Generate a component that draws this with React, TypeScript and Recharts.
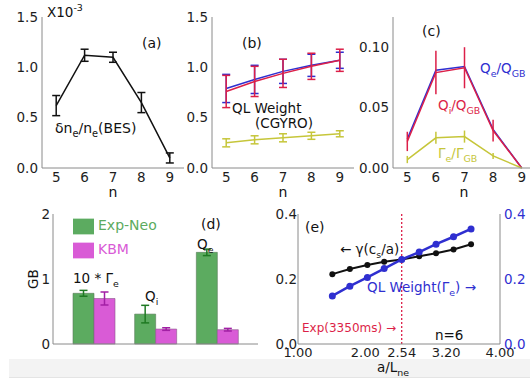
import React from 'react';
import { ComposedChart, Line, Bar, XAxis, YAxis, ErrorBar, ReferenceLine, Legend } from 'recharts';

const FONT = '"DejaVu Sans", sans-serif';
const FRAME = '#8a8a8a';
const TICK = '#1e1e1e';
const BLACK = '#111111';
const BLUE = '#2f2fd0';
const RED = '#dc1f48';
const YEL = '#c6c63a';
const GREEN = '#5cab60';
const GREEN_D = '#1f7a23';
const MAG = '#d95bd6';
const MAG_D = '#a21fa5';

// ---- Panel (a): BES density fluctuation amplitude (x10^-3)
const nValues = [5, 6, 7, 8, 9];
const besAmp = [0.62, 1.12, 1.1, 0.65, 0.1];
const besErr = [0.1, 0.06, 0.05, 0.1, 0.05];

// ---- Panel (b): QL weights (CGYRO)
const qlQe = [0.79, 0.88, 0.96, 1.02, 1.07];
const qlQeErr = [0.14, 0.14, 0.12, 0.11, 0.08];
const qlQi = [0.76, 0.86, 0.94, 1.01, 1.07];
const qlQiErr = [0.16, 0.15, 0.14, 0.13, 0.11];
const qlGe = [0.25, 0.28, 0.3, 0.32, 0.34];
const qlGeErr = [0.04, 0.04, 0.04, 0.035, 0.03];

// ---- Panel (c): fluxes
const fluxQe = [0.024, 0.081, 0.084, 0.032, 0.0];
const fluxQi = [0.022, 0.079, 0.083, 0.031, 0.0];
const fluxQiErr = [0.008, 0.018, 0.017, 0.009, 0];
const fluxGe = [0.007, 0.025, 0.026, 0.01, 0.0];
const fluxGeErr = [0.003, 0.005, 0.005, 0.0025, 0];

// ---- Panel (d): GB fluxes
const fluxCats = ['10*Γe', 'Qi', 'Qe'];
const expNeo = [0.78, 0.46, 1.41];
const expNeoErr = [0.045, 0.135, 0.05];
const kbm = [0.7, 0.23, 0.22];
const kbmErr = [0.1, 0.02, 0.02];

// ---- Panel (e): a/Lne scan, n=6
const aLne = [1.51, 1.77, 2.03, 2.28, 2.54, 2.8, 3.05, 3.31, 3.57];
const gammaVals = [0.215, 0.231, 0.243, 0.253, 0.26, 0.27, 0.279, 0.291, 0.307];
const qlWeightVals = [0.148, 0.178, 0.205, 0.232, 0.26, 0.283, 0.307, 0.33, 0.354];
const expALne = 2.54;

// ---- ticks
const nTicks = [5, 6, 7, 8, 9];
const ticksAB = [0, 0.5, 1.0, 1.5];
const ticksC = [0, 0.05, 0.1];
const ticksD = [0, 1, 2];
const ticksE = [0, 0.2, 0.4];
const ticksEx = [1.0, 2.0, 2.54, 3.2, 4.0];

const rowsA = nValues.map((n, i) => ({ n, bes: besAmp[i], besE: besErr[i] }));
const rowsB = nValues.map((n, i) => ({
  n, qe: qlQe[i], qeE: qlQeErr[i], qi: qlQi[i], qiE: qlQiErr[i], ge: qlGe[i], geE: qlGeErr[i],
}));
const rowsC = nValues.map((n, i) => ({
  n, qe: fluxQe[i], qi: fluxQi[i], qiE: fluxQiErr[i], ge: fluxGe[i], geE: fluxGeErr[i],
}));
const rowsD = fluxCats.map((name, i) => ({
  name, exp: expNeo[i], expE: expNeoErr[i], kbm: kbm[i], kbmE: kbmErr[i],
}));
const rowsE = aLne.map((a, i) => ({ a, g: gammaVals[i], w: qlWeightVals[i] }));

const tickStyle = { fontSize: 13.5, fill: TICK, fontFamily: FONT };
const axLine = { stroke: FRAME, strokeWidth: 1 };

type Part = [string, number?];
function Rich({ x, y, parts, size = 13.5, fill = '#111', anchor = 'start', rotate = false }: any) {
  const sub = size * 0.7;
  let cur = 0;
  return (
    <text
      x={x}
      y={y}
      fontSize={size}
      fill={fill}
      textAnchor={anchor}
      fontFamily={FONT}
      transform={rotate ? `rotate(-90 ${x} ${y})` : undefined}
    >
      {(parts as Part[]).map(([t, s = 0], i) => {
        const target = s === 1 ? size * 0.3 : s === -1 ? -size * 0.45 : 0;
        const dy = target - cur;
        cur = target;
        return (
          <tspan key={i} dy={dy} fontSize={s ? sub : size}>
            {t}
          </tspan>
        );
      })}
    </text>
  );
}

function Abs({ left, top, children }: any) {
  return <div style={{ position: 'absolute', left, top }}>{children}</div>;
}

export default function App() {
  return (
    <div
      style={{
        position: 'absolute', left: 0, top: 0, width: 530, height: 380, overflow: 'hidden',
        background: '#fff', fontFamily: FONT,
      }}
    >
      <div style={{ position: 'absolute', left: 9, top: 359, width: 521, height: 18, background: '#f3f3f3', borderBottom: '1px solid #e4e4e4' }} />

      {/* (a) */}
      <Abs left={0} top={0}>
        <ComposedChart width={190} height={200} data={rowsA} margin={{ top: 17, right: 6, bottom: 0, left: 0 }}>
          <XAxis dataKey="n" type="number" domain={[4.5, 9.5]} ticks={nTicks} interval={0} tick={tickStyle} tickLine={false} tickSize={0} tickMargin={4} height={32} axisLine={axLine} />
          <XAxis xAxisId="ft" orientation="top" type="number" domain={[0, 1]} height={0} tick={false} tickLine={false} axisLine={axLine} />
          <YAxis domain={[0, 1.5]} ticks={ticksAB} interval={0} tick={tickStyle} tickLine={false} tickSize={0} tickMargin={4} width={42} axisLine={axLine} tickFormatter={(v: number) => v.toFixed(1)} />
          <YAxis yAxisId="fr" orientation="right" domain={[0, 1]} width={0} tick={false} tickLine={false} axisLine={axLine} />
          <Line dataKey="bes" stroke={BLACK} strokeWidth={1.5} dot={false} isAnimationActive={false}>
            <ErrorBar dataKey="besE" direction="y" width={4} stroke={BLACK} strokeWidth={1.5} isAnimationActive={false} />
          </Line>
        </ComposedChart>
      </Abs>

      {/* (b) */}
      <Abs left={170} top={0}>
        <ComposedChart width={190} height={200} data={rowsB} margin={{ top: 17, right: 6, bottom: 0, left: 0 }}>
          <XAxis dataKey="n" type="number" domain={[4.5, 9.5]} ticks={nTicks} interval={0} tick={tickStyle} tickLine={false} tickSize={0} tickMargin={4} height={32} axisLine={axLine} />
          <XAxis xAxisId="ft" orientation="top" type="number" domain={[0, 1]} height={0} tick={false} tickLine={false} axisLine={axLine} />
          <YAxis domain={[0, 1.5]} ticks={ticksAB} interval={0} tick={tickStyle} tickLine={false} tickSize={0} tickMargin={4} width={42} axisLine={axLine} tickFormatter={(v: number) => v.toFixed(1)} />
          <YAxis yAxisId="fr" orientation="right" domain={[0, 1]} width={0} tick={false} tickLine={false} axisLine={axLine} />
          <Line dataKey="qe" stroke={BLUE} strokeWidth={1.5} dot={false} isAnimationActive={false}>
            <ErrorBar dataKey="qeE" direction="y" width={4} stroke={BLUE} strokeWidth={1.5} isAnimationActive={false} />
          </Line>
          <Line dataKey="qi" stroke={RED} strokeWidth={1.5} dot={false} isAnimationActive={false}>
            <ErrorBar dataKey="qiE" direction="y" width={4} stroke={RED} strokeWidth={1.5} isAnimationActive={false} />
          </Line>
          <Line dataKey="ge" stroke={YEL} strokeWidth={1.5} dot={false} isAnimationActive={false}>
            <ErrorBar dataKey="geE" direction="y" width={4} stroke={YEL} strokeWidth={1.5} isAnimationActive={false} />
          </Line>
        </ComposedChart>
      </Abs>

      {/* (c) */}
      <Abs left={350} top={0}>
        <ComposedChart width={190} height={200} data={rowsC} margin={{ top: 17, right: 4, bottom: 0, left: 0 }}>
          <XAxis dataKey="n" type="number" domain={[4.5, 9.5]} ticks={nTicks} interval={0} tick={tickStyle} tickLine={false} tickSize={0} tickMargin={4} height={32} axisLine={axLine} />
          <XAxis xAxisId="ft" orientation="top" type="number" domain={[0, 1]} height={0} tick={false} tickLine={false} axisLine={axLine} />
          <YAxis domain={[0, 0.125]} ticks={ticksC} interval={0} tick={tickStyle} tickLine={false} tickSize={0} tickMargin={4} width={43} axisLine={axLine} tickFormatter={(v: number) => v.toFixed(2)} />
          <YAxis yAxisId="fr" orientation="right" domain={[0, 1]} width={0} tick={false} tickLine={false} axisLine={axLine} />
          <Line dataKey="qe" stroke={BLUE} strokeWidth={1.5} dot={false} isAnimationActive={false} />
          <Line dataKey="qi" stroke={RED} strokeWidth={1.5} dot={false} isAnimationActive={false}>
            <ErrorBar dataKey="qiE" direction="y" width={0} stroke={RED} strokeWidth={1.5} isAnimationActive={false} />
          </Line>
          <Line dataKey="ge" stroke={YEL} strokeWidth={1.5} dot={false} isAnimationActive={false}>
            <ErrorBar dataKey="geE" direction="y" width={0} stroke={YEL} strokeWidth={1.5} isAnimationActive={false} />
          </Line>
        </ComposedChart>
      </Abs>

      {/* (d) */}
      <Abs left={0} top={190}>
        <ComposedChart width={270} height={180} data={rowsD} margin={{ top: 24, right: 12, bottom: 0, left: 0 }} barGap={0}>
          <XAxis dataKey="name" type="category" padding={{ left: 10, right: 10 }} tick={false} tickLine={false} height={26} axisLine={axLine} />
          <XAxis xAxisId="ft" dataKey="name" orientation="top" height={0} tick={false} tickLine={false} axisLine={axLine} />
          <YAxis domain={[0, 2]} ticks={ticksD} interval={0} tick={tickStyle} tickLine={false} tickSize={0} tickMargin={3} width={53} axisLine={axLine} />
          <YAxis yAxisId="fr" orientation="right" domain={[0, 1]} width={0} tick={false} tickLine={false} axisLine={axLine} />
          <Legend
            layout="vertical"
            align="center"
            verticalAlign="middle"
            iconType="rect"
            iconSize={21}
            wrapperStyle={{ left: 73, top: 23, width: 'auto', fontSize: 14, lineHeight: '24px', fontFamily: FONT }}
          />
          <Bar dataKey="exp" name="Exp-Neo" fill={GREEN} stroke="#5a7a5a" strokeWidth={0.6} barSize={21} isAnimationActive={false}>
            <ErrorBar dataKey="expE" direction="y" width={4} stroke={GREEN_D} strokeWidth={1.5} isAnimationActive={false} />
          </Bar>
          <Bar dataKey="kbm" name="KBM" fill={MAG} stroke="#8a5a8a" strokeWidth={0.6} barSize={21} isAnimationActive={false}>
            <ErrorBar dataKey="kbmE" direction="y" width={4} stroke={MAG_D} strokeWidth={1.5} isAnimationActive={false} />
          </Bar>
        </ComposedChart>
      </Abs>

      {/* (e) */}
      <Abs left={260} top={190}>
        <ComposedChart width={270} height={190} data={rowsE} margin={{ top: 24, right: 0, bottom: 16, left: 0 }}>
          <XAxis dataKey="a" type="number" domain={[1, 4]} ticks={ticksEx} interval={0} tick={{ ...tickStyle, fontSize: 13 }} tickLine={false} tickSize={0} tickMargin={4} height={20} axisLine={axLine} tickFormatter={(v: number) => v.toFixed(2)} />
          <XAxis xAxisId="ft" orientation="top" type="number" domain={[0, 1]} height={0} tick={false} tickLine={false} axisLine={axLine} />
          <YAxis yAxisId="l" domain={[0, 0.4]} ticks={ticksE} interval={0} tick={tickStyle} tickLine={false} tickSize={0} tickMargin={1} width={38} axisLine={axLine} tickFormatter={(v: number) => v.toFixed(1)} />
          <YAxis yAxisId="r" orientation="right" domain={[0, 0.4]} ticks={ticksE} interval={0} tick={{ ...tickStyle, fill: BLUE }} tickLine={false} tickSize={0} tickMargin={4} width={30} axisLine={axLine} tickFormatter={(v: number) => v.toFixed(1)} />
          <ReferenceLine yAxisId="l" x={expALne} stroke={RED} strokeWidth={1.3} strokeDasharray="2 2" />
          <Line yAxisId="l" dataKey="g" stroke={BLACK} strokeWidth={2} dot={{ r: 3, fill: BLACK, stroke: BLACK, strokeWidth: 0 }} isAnimationActive={false} />
          <Line yAxisId="r" dataKey="w" stroke={BLUE} strokeWidth={2.5} dot={{ r: 3.5, fill: BLUE, stroke: BLUE, strokeWidth: 0 }} isAnimationActive={false} />
        </ComposedChart>
      </Abs>

      {/* annotations */}
      <svg width={530} height={380} style={{ position: 'absolute', left: 0, top: 0, pointerEvents: 'none' }}>
        <Rich x={47} y={17} parts={[['X10'], ['-3', -1]]} />
        <Rich x={142} y={48} parts={[['(a)']]} size={14} />
        <Rich x={55} y={133} parts={[['δn'], ['e', 1], ['/n'], ['e', 1], ['(BES)']]} size={14} />
        <Rich x={113} y={197} parts={[['n']]} size={14} anchor="middle" />

        <Rich x={242} y={48} parts={[['(b)']]} size={14} />
        <Rich x={232} y={113} parts={[['QL Weight']]} size={13.5} />
        <Rich x={255} y={128} parts={[['(CGYRO)']]} size={13.5} />
        <Rich x={283} y={197} parts={[['n']]} size={14} anchor="middle" />

        <Rich x={422} y={36} parts={[['(c)']]} size={14} />
        <Rich x={480} y={73} parts={[['Q'], ['e', 1], ['/Q'], ['GB', 1]]} fill={BLUE} />
        <Rich x={438} y={110} parts={[['Q'], ['i', 1], ['/Q'], ['GB', 1]]} fill={RED} />
        <Rich x={438} y={158} parts={[['Γ'], ['e', 1], ['/Γ'], ['GB', 1]]} fill={YEL} />
        <Rich x={464} y={197} parts={[['n']]} size={14} anchor="middle" />

        <Rich x={38} y={279} parts={[['GB']]} size={13.5} anchor="middle" rotate />
        <Rich x={201} y={229} parts={[['(d)']]} size={14} />
        <Rich x={73} y={283} parts={[['10 * Γ'], ['e', 1]]} size={13.5} />
        <Rich x={145} y={301} parts={[['Q'], ['i', 1]]} size={13.5} />
        <Rich x={197} y={249} parts={[['Q'], ['e', 1]]} size={13.5} />

        <Rich x={305} y={232} parts={[['(e)']]} size={14} />
        <Rich x={340} y={254} parts={[['← γ(c'], ['s', 1], ['/a)']]} size={13.5} />
        <Rich x={367} y={292} parts={[['QL  Weight(Γ'], ['e', 1], [') →']]} size={13.5} fill={BLUE} />
        <Rich x={302} y={332} parts={[['Exp(3350ms) →']]} size={12} fill={RED} />
        <Rich x={435} y={340} parts={[['n=6']]} size={13.5} />
        <Rich x={377} y={372} parts={[['a/L'], ['ne', 1]]} size={13.5} />
      </svg>
    </div>
  );
}
